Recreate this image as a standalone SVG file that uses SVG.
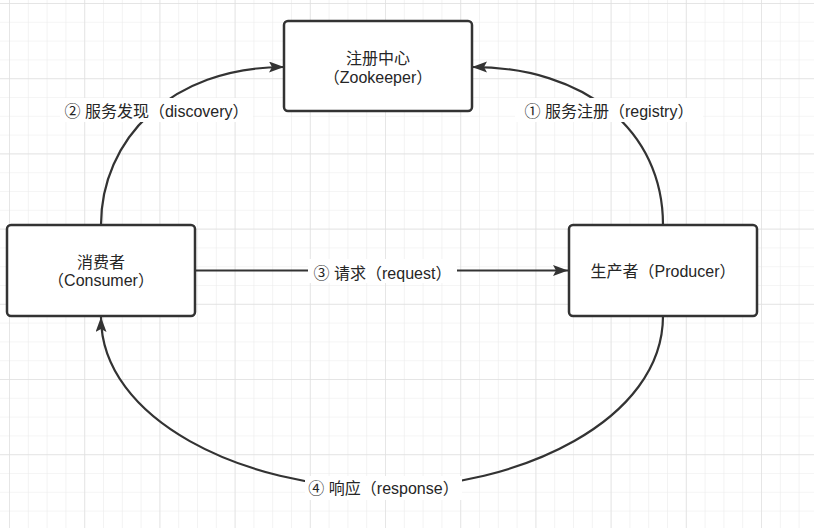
<svg xmlns="http://www.w3.org/2000/svg" width="814" height="528" viewBox="0 0 814 528">
  <defs>
    <pattern id="minor" patternUnits="userSpaceOnUse" x="9" y="3" width="18.8" height="18.8">
      <path d="M0,0 V18.8 M0,0 H18.8" fill="none" stroke="#ececec" stroke-width="1.2"/>
    </pattern>
    <pattern id="major" patternUnits="userSpaceOnUse" x="9" y="3" width="75.2" height="75.2">
      <path d="M0,0 V75.2 M0,0 H75.2" fill="none" stroke="#e0e0e0" stroke-width="1.4"/>
    </pattern>
    <marker id="arrow" markerUnits="userSpaceOnUse" markerWidth="16" markerHeight="12" refX="15" refY="5.5" orient="auto">
      <path d="M0,0 L15,5.5 L0,11 L3,5.5 Z" fill="#333"/>
    </marker>
    <style>
      .box { fill: #ffffff; stroke: #333333; stroke-width: 2.5; }
      .edge { fill: none; stroke: #333333; stroke-width: 2.2; marker-end: url(#arrow); }
      .lbg { fill: #ffffff; }
      text { font-family: "Liberation Sans", "Noto Sans CJK SC", sans-serif; font-size: 16px; fill: #262626; text-anchor: middle; }
    </style>
  </defs>

  <rect width="814" height="528" fill="#ffffff"/>
  <rect width="814" height="528" fill="url(#minor)"/>
  <rect width="814" height="528" fill="url(#major)"/>

  <g id="connectors">
    <path class="edge" d="M101,225 C101,140 170,67 284,67"/>
    <path class="edge" d="M663,225 C663,130 585,67 472,67"/>
    <path class="edge" d="M195,270.5 H568"/>
    <path class="edge" d="M663,316 C663,420 520,488 382,488 C244,488 101,420 101,317"/>

    <rect class="lbg" x="60" y="98" width="193" height="24"/>
    <text x="156.5" y="117">② 服务发现（discovery）</text>

    <rect class="lbg" x="515" y="98" width="188" height="24"/>
    <text x="609" y="117">① 服务注册（registry）</text>

    <rect class="lbg" x="308" y="259" width="149" height="24"/>
    <text x="382.5" y="279">③ 请求（request）</text>

    <rect class="lbg" x="305" y="476" width="157" height="24"/>
    <text x="383.5" y="494">④ 响应（response）</text>
  </g>

  <g id="registry">
    <rect class="box" x="284" y="21" width="188" height="90" rx="4"/>
    <text x="378" y="64">注册中心</text>
    <text x="378" y="82.5">（Zookeeper）</text>
  </g>

  <g id="consumer">
    <rect class="box" x="7" y="225" width="188" height="91" rx="4"/>
    <text x="101" y="267.5">消费者</text>
    <text x="101" y="286">（Consumer）</text>
  </g>

  <g id="producer">
    <rect class="box" x="569" y="225" width="188" height="91" rx="4"/>
    <text x="663" y="277">生产者（Producer）</text>
  </g>
</svg>
